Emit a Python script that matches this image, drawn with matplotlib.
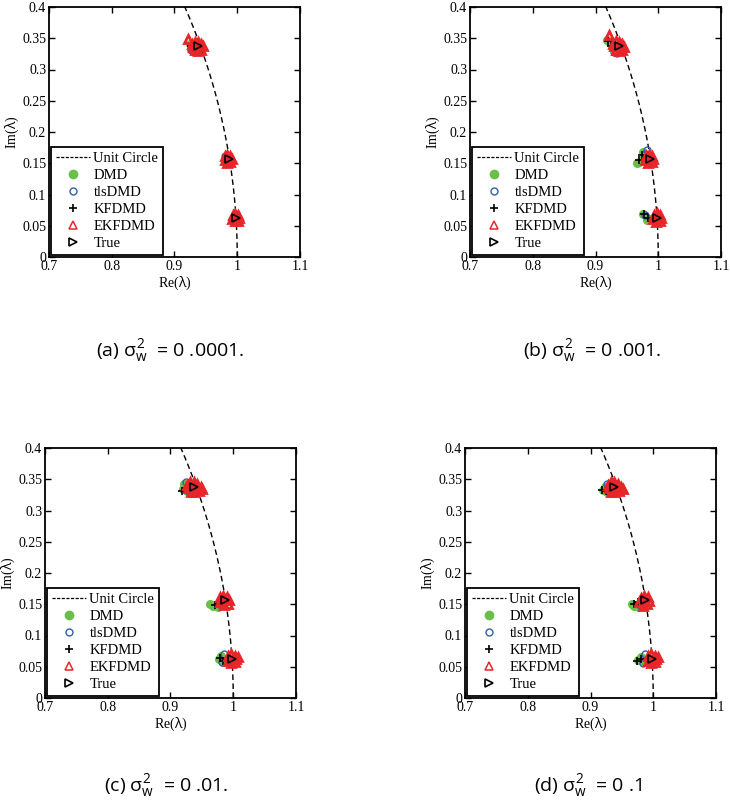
import numpy as np
import matplotlib
matplotlib.use('Agg')
import matplotlib.pyplot as plt
from matplotlib.lines import Line2D

plt.rcParams['font.family'] = ['Liberation Serif', 'DejaVu Serif']
plt.rcParams['mathtext.fontset'] = 'custom'
plt.rcParams['mathtext.rm'] = 'Open Sans'
plt.rcParams['mathtext.it'] = 'Open Sans'
plt.rcParams['mathtext.sf'] = 'Open Sans'

# eigenvalues (Re + Im j)
true_eigs = [0.938 + 0.337j, 0.987 + 0.157j, 0.998 + 0.063j]

# (a) sigma^2 = 0.0001
dmd_a = [0.924 + 0.340j, 0.927 + 0.334j, 0.931 + 0.330j, 0.935 + 0.329j,
         0.981 + 0.155j, 0.983 + 0.152j, 0.995 + 0.060j, 0.997 + 0.058j]
tls_a = [0.929 + 0.330j, 0.933 + 0.328j, 0.927 + 0.332j,
         0.981 + 0.162j, 0.984 + 0.152j, 0.996 + 0.058j]
kf_a = [0.926 + 0.337j, 0.929 + 0.333j, 0.982 + 0.158j, 0.995 + 0.061j]
ekf_a = [0.928 + 0.341j, 0.932 + 0.344j, 0.937 + 0.344j, 0.942 + 0.341j,
         0.945 + 0.337j, 0.942 + 0.332j, 0.937 + 0.330j, 0.932 + 0.331j,
         0.929 + 0.336j, 0.935 + 0.337j, 0.921 + 0.349j, 0.939 + 0.340j,
         0.980 + 0.161j, 0.984 + 0.163j, 0.989 + 0.161j, 0.991 + 0.157j,
         0.989 + 0.152j, 0.984 + 0.151j, 0.980 + 0.155j, 0.986 + 0.157j,
         0.993 + 0.067j, 0.997 + 0.069j, 1.001 + 0.067j, 1.003 + 0.063j,
         1.001 + 0.058j, 0.996 + 0.057j, 0.992 + 0.061j, 0.997 + 0.063j]

# (b) sigma^2 = 0.001
dmd_b = [0.919 + 0.347j, 0.923 + 0.343j, 0.932 + 0.329j, 0.936 + 0.330j,
         0.966 + 0.150j, 0.969 + 0.152j, 0.975 + 0.168j, 0.978 + 0.162j,
         0.984 + 0.150j, 0.976 + 0.069j, 0.982 + 0.059j, 0.986 + 0.061j]
tls_b = [0.930 + 0.328j, 0.934 + 0.327j, 0.982 + 0.171j, 0.979 + 0.165j,
         0.985 + 0.151j, 0.979 + 0.068j, 0.995 + 0.056j]
kf_b = [0.920 + 0.345j, 0.925 + 0.338j, 0.974 + 0.163j, 0.970 + 0.155j,
        0.977 + 0.069j, 0.983 + 0.062j]
ekf_b = [0.928 + 0.341j, 0.932 + 0.345j, 0.937 + 0.344j, 0.943 + 0.341j,
         0.946 + 0.336j, 0.942 + 0.331j, 0.937 + 0.330j, 0.932 + 0.332j,
         0.929 + 0.337j, 0.936 + 0.337j, 0.922 + 0.356j, 0.940 + 0.339j,
         0.980 + 0.162j, 0.985 + 0.164j, 0.990 + 0.161j, 0.992 + 0.157j,
         0.990 + 0.152j, 0.984 + 0.150j, 0.979 + 0.156j, 0.986 + 0.157j,
         0.993 + 0.067j, 0.998 + 0.070j, 1.002 + 0.067j, 1.004 + 0.063j,
         1.002 + 0.058j, 0.997 + 0.056j, 0.992 + 0.061j, 0.998 + 0.063j]

# (c) sigma^2 = 0.01
dmd_c = [0.920 + 0.334j, 0.922 + 0.342j, 0.926 + 0.331j, 0.932 + 0.328j,
         0.963 + 0.150j, 0.968 + 0.148j, 0.976 + 0.146j, 0.978 + 0.062j,
         0.980 + 0.068j, 0.984 + 0.058j]
tls_c = [0.925 + 0.345j, 0.930 + 0.329j, 0.978 + 0.150j, 0.982 + 0.057j,
         0.986 + 0.071j]
kf_c = [0.919 + 0.332j, 0.924 + 0.336j, 0.971 + 0.149j, 0.975 + 0.152j,
        0.979 + 0.064j, 0.983 + 0.060j]
ekf_c = [0.927 + 0.341j, 0.931 + 0.345j, 0.937 + 0.346j, 0.943 + 0.343j,
         0.948 + 0.338j, 0.945 + 0.332j, 0.938 + 0.329j, 0.932 + 0.330j,
         0.928 + 0.336j, 0.936 + 0.338j, 0.950 + 0.335j, 0.941 + 0.337j,
         0.979 + 0.161j, 0.984 + 0.164j, 0.990 + 0.162j, 0.993 + 0.157j,
         0.991 + 0.151j, 0.985 + 0.149j, 0.979 + 0.154j, 0.986 + 0.157j,
         0.992 + 0.067j, 0.997 + 0.070j, 1.002 + 0.068j, 1.005 + 0.063j,
         1.003 + 0.058j, 0.997 + 0.056j, 0.991 + 0.060j, 0.998 + 0.063j,
         1.007 + 0.066j]

# (d) sigma^2 = 0.1
dmd_d = [0.920 + 0.333j, 0.923 + 0.337j, 0.927 + 0.330j, 0.933 + 0.328j,
         0.966 + 0.150j, 0.970 + 0.147j, 0.978 + 0.146j, 0.976 + 0.061j,
         0.981 + 0.066j, 0.984 + 0.057j]
tls_d = [0.926 + 0.342j, 0.931 + 0.328j, 0.979 + 0.149j, 0.983 + 0.056j,
         0.987 + 0.070j]
kf_d = [0.918 + 0.333j, 0.924 + 0.331j, 0.970 + 0.150j, 0.976 + 0.153j,
        0.974 + 0.060j, 0.981 + 0.063j]
ekf_d = [0.928 + 0.341j, 0.932 + 0.345j, 0.938 + 0.345j, 0.944 + 0.342j,
         0.948 + 0.337j, 0.945 + 0.331j, 0.938 + 0.329j, 0.932 + 0.330j,
         0.929 + 0.336j, 0.937 + 0.337j, 0.951 + 0.334j, 0.942 + 0.336j,
         0.980 + 0.160j, 0.985 + 0.163j, 0.991 + 0.161j, 0.993 + 0.156j,
         0.990 + 0.150j, 0.984 + 0.148j, 0.978 + 0.153j, 0.986 + 0.156j,
         0.992 + 0.067j, 0.997 + 0.070j, 1.002 + 0.068j, 1.005 + 0.063j,
         1.003 + 0.058j, 0.997 + 0.056j, 0.991 + 0.060j, 0.998 + 0.063j,
         1.007 + 0.065j]

captions = ['(a) $\\sigma_{\\rm w}^{2}$  = 0 .0001.',
            '(b) $\\sigma_{\\rm w}^{2}$  = 0 .001.',
            '(c) $\\sigma_{\\rm w}^{2}$  = 0 .01.',
            '(d) $\\sigma_{\\rm w}^{2}$  = 0 .1']

xticks = [0.7, 0.8, 0.9, 1.0, 1.1]
xticklabels = ['0.7', '0.8', '0.9', '1', '1.1']
yticks = [0, 0.05, 0.1, 0.15, 0.2, 0.25, 0.3, 0.35, 0.4]
yticklabels = ['0', '0.05', '0.1', '0.15', '0.2', '0.25', '0.3', '0.35', '0.4']

panels = [(dmd_a, tls_a, kf_a, ekf_a), (dmd_b, tls_b, kf_b, ekf_b),
          (dmd_c, tls_c, kf_c, ekf_c), (dmd_d, tls_d, kf_d, ekf_d)]

# axes boxes in pixels: left, top, width, height
W, H = 730, 806
boxes = [(49, 7, 251, 250), (470, 7, 251, 250),
         (45, 448, 251, 250), (465, 448, 251, 250)]
cap_pos = [(170, 351), (592, 351), (166, 786), (588, 786)]

green = '#69bf4a'
blue = '#2f5fad'
red = '#e8262a'

fig = plt.figure(figsize=(W / 100, H / 100), dpi=100)

theta = np.linspace(0, np.pi / 2, 500)
for k, (dmd, tls, kf, ekf) in enumerate(panels):
    l, t, w, h = boxes[k]
    ax = fig.add_axes([l / W, 1 - (t + h) / H, w / W, h / H])
    dmd = np.array(dmd)
    tls = np.array(tls)
    kf = np.array(kf)
    ekf = np.array(ekf)
    tr = np.array(true_eigs)
    ax.plot(np.cos(theta), np.sin(theta), color='k', lw=1.0, ls='--',
            dashes=(4, 2.5))
    ax.plot(dmd.real, dmd.imag, 'o', ms=5.5, mfc=green, mec=green)
    ax.plot(tls.real, tls.imag, 'o', ms=5, mfc='none', mec=blue, mew=1.0)
    ax.plot(kf.real, kf.imag, '+', ms=6, color='k', mew=1.2)
    ax.plot(ekf.real, ekf.imag, '^', ms=5.5, mfc='none', mec=red, mew=2.0)
    ax.plot(tr.real, tr.imag, '>', ms=6, mfc='none', mec='k', mew=1.2)
    ax.set_xlim(0.7, 1.1)
    ax.set_ylim(0, 0.4)
    ax.set_xticks(xticks)
    ax.set_xticklabels(xticklabels, fontsize=10)
    ax.set_yticks(yticks)
    ax.set_yticklabels(yticklabels, fontsize=10)
    ax.tick_params(direction='in', top=True, right=True, length=4, width=1,
                   pad=2)
    for s in ax.spines.values():
        s.set_linewidth(1.3)
    ax.set_xlabel('Re($\\lambda$)', fontsize=10, labelpad=1)
    ax.set_ylabel('Im($\\lambda$)', fontsize=10, labelpad=1)

    handles = [
        Line2D([], [], color='k', lw=0.9, ls='--', dashes=(2.5, 1.2)),
        Line2D([], [], ls='', marker='o', ms=6, mfc=green, mec=green),
        Line2D([], [], ls='', marker='o', ms=5, mfc='none', mec=blue,
               mew=1.0),
        Line2D([], [], ls='', marker='+', ms=6, color='k', mew=1.2),
        Line2D([], [], ls='', marker='^', ms=6, mfc='none', mec=red,
               mew=1.1),
        Line2D([], [], ls='', marker='>', ms=6, mfc='none', mec='k',
               mew=1.2),
    ]
    labels = ['Unit Circle', 'DMD', 'tlsDMD', 'KFDMD', 'EKFDMD', 'True']
    leg = ax.legend(handles, labels, loc='lower left', fontsize=10.5,
                    labelspacing=0.25, borderpad=0.35, handlelength=2.3,
                    handletextpad=0.25, borderaxespad=0.15, fancybox=False,
                    framealpha=1, edgecolor='k', numpoints=1)
    leg.get_frame().set_linewidth(1.3)
    cx, cy = cap_pos[k]
    fig.text(cx / W, 1 - cy / H, captions[k], ha='center', va='center',
             fontsize=14, fontfamily='Open Sans')

fig.savefig('out.png', dpi=100)
